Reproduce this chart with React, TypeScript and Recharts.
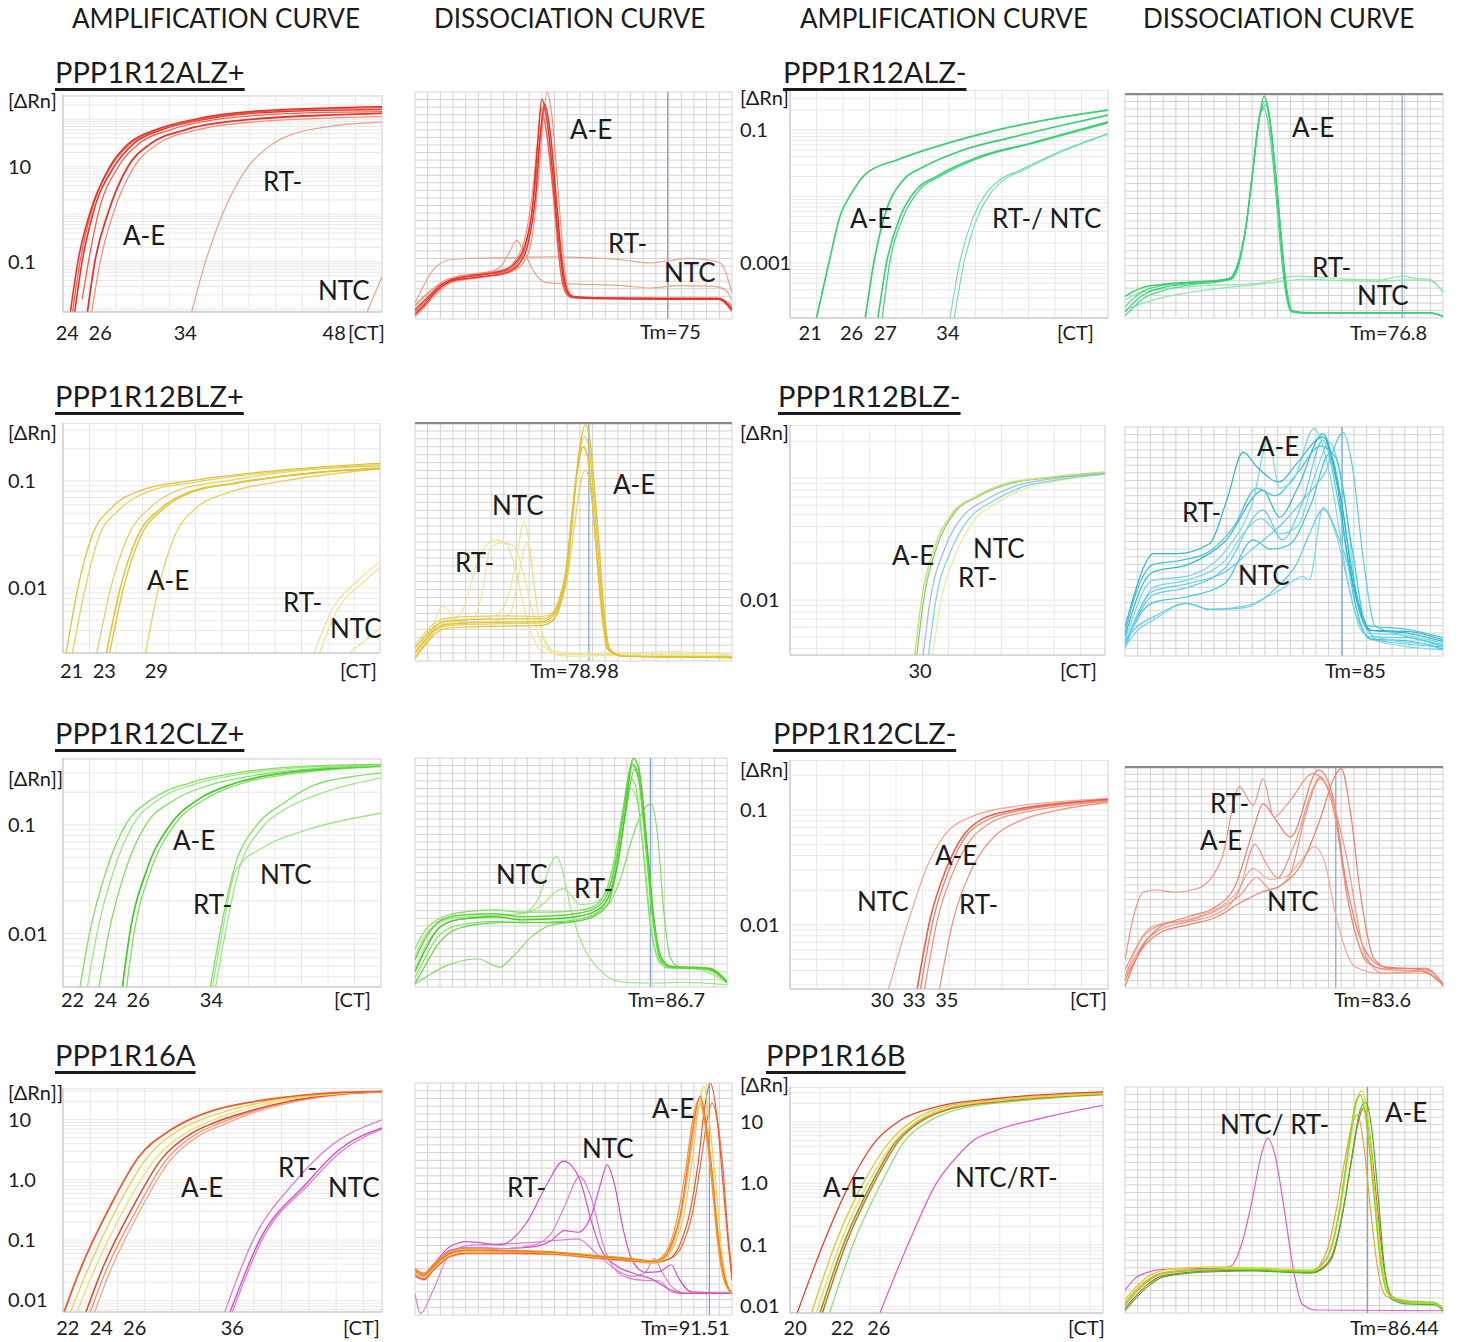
import React from 'react';
import { LineChart, Line, XAxis, YAxis, CartesianGrid, ReferenceLine } from 'recharts';

type Pt = [number, number];
type Anchor = 'start' | 'middle' | 'end';

const FONT = "Lato, 'Open Sans', 'DejaVu Sans', sans-serif";
const INK = '#1b1b1b';

// ---------- text content ----------
const columnHeaders = ['AMPLIFICATION CURVE', 'DISSOCIATION CURVE', 'AMPLIFICATION CURVE', 'DISSOCIATION CURVE'];
const geneTitles = ['PPP1R12ALZ+', 'PPP1R12ALZ-', 'PPP1R12BLZ+', 'PPP1R12BLZ-', 'PPP1R12CLZ+', 'PPP1R12CLZ-', 'PPP1R16A', 'PPP1R16B'];
const rnLabels = ['[ΔRn]', '[ΔRn]', '[ΔRn]', '[ΔRn]', '[ΔRn]]', '[ΔRn]', '[ΔRn]]', '[ΔRn]'];
const tmLabels = ['Tm=75', 'Tm=76.8', 'Tm=78.98', 'Tm=85', 'Tm=86.7', 'Tm=83.6', 'Tm=91.51', 'Tm=86.44'];
// where the blue Tm marker sits on each melt plot's temperature axis
const tmMarkers = [87.9, 90.5, 79.2, 83.9, 86.4, 83.2, 92.5, 86.7];

// ---------- amplification axes (Ct tick labels, ΔRn tick labels) ----------
const a1CtTicks = [24, 26, 34, 48];
const a1CtAnchor: Anchor[] = ['end', 'middle', 'middle', 'middle'];
const a1RnTicks = [10, 0.1];
const a2CtTicks = [21, 26, 27, 34];
const a2CtAnchor: Anchor[] = ['middle', 'end', 'start', 'middle'];
const a2RnTicks = [0.1, 0.001];
const a3CtTicks = [21, 23, 29];
const a3CtAnchor: Anchor[] = ['middle', 'start', 'middle'];
const a3RnTicks = [0.1, 0.01];
const a4CtTicks = [30];
const a4CtAnchor: Anchor[] = ['middle'];
const a4RnTicks = [0.01];
const a5CtTicks = [22, 24, 26, 34];
const a5CtAnchor: Anchor[] = ['end', 'middle', 'start', 'middle'];
const a5RnTicks = [0.1, 0.01];
const a6CtTicks = [30, 33, 35];
const a6CtAnchor: Anchor[] = ['middle', 'middle', 'start'];
const a6RnTicks = [0.1, 0.01];
const a7CtTicks = [22, 24, 26, 36];
const a7CtAnchor: Anchor[] = ['end', 'middle', 'start', 'middle'];
const a7RnTicks = [10, 1, 0.1, 0.01];
const a8CtTicks = [20, 22, 26];
const a8CtAnchor: Anchor[] = ['end', 'start', 'middle'];
const a8RnTicks = [10, 1, 0.1, 0.01];

// ---------- amplification curves: [cycle, ΔRn] ----------
// PPP1R12ALZ+
const a1Ae1: Pt[] = [[23.2, 0.0087], [23.9, 0.1], [25, 1], [26.9, 10], [28.6, 30], [31.2, 60], [34.9, 100], [41, 150], [52.5, 183]];
const a1Ae2: Pt[] = [[23.4, 0.0087], [24.1, 0.1], [25.1, 1], [27, 10], [28.8, 30], [31.5, 60], [35.5, 100], [42, 148], [52.5, 175]];
const a1Ae3: Pt[] = [[23.6, 0.0087], [24.3, 0.1], [25.3, 1], [27.3, 10], [29.1, 30], [31.8, 60], [35.9, 100], [42.9, 145], [52.5, 160]];
const a1Ae4: Pt[] = [[24.3, 0.016], [24.9, 0.1], [25.8, 1], [27.7, 10], [29.6, 30], [32.6, 60], [36.8, 98], [44.8, 135], [52.5, 145]];
const a1Ae5: Pt[] = [[24.8, 0.0087], [25.5, 0.1], [26.7, 1], [28.6, 10], [30.7, 30], [34, 60], [39.2, 95], [48.6, 125], [52.5, 133]];
const a1Ae6: Pt[] = [[25.2, 0.0087], [26, 0.1], [27.2, 1], [29.2, 10], [31.4, 30], [34.9, 58], [40.6, 88], [52.5, 113]];
const a1Rt: Pt[] = [[34.6, 0.0087], [35.9, 0.1], [37.5, 1], [39.9, 10], [42.2, 30], [45.7, 60], [52.5, 88]];
const a1Ntc: Pt[] = [[51.1, 0.0087], [52.5, 0.048]];
// PPP1R12ALZ-
const a2Ae1: Pt[] = [[21.6, 1.5e-4], [22.9, 0.00126], [23.8, 0.005], [24.9, 0.0112], [26.3, 0.0224], [29.2, 0.0355], [33.9, 0.063], [38.6, 0.1], [44.9, 0.158], [49.1, 0.2]];
const a2Ae2: Pt[] = [[26.2, 1.5e-4], [27, 0.001], [28.2, 0.0063], [29.8, 0.0178], [31.7, 0.028], [35.4, 0.05], [40.2, 0.079], [44.9, 0.119], [49.1, 0.168]];
const a2Ae3: Pt[] = [[27.4, 1.5e-4], [28.2, 0.001], [29.5, 0.005], [31, 0.0126], [32.9, 0.02], [37, 0.04], [41.7, 0.063], [49.1, 0.133]];
const a2Ae4: Pt[] = [[27.8, 1.5e-4], [28.5, 0.001], [29.8, 0.005], [31.3, 0.0126], [33.2, 0.02], [37.3, 0.04], [42, 0.063], [49.1, 0.128]];
const a2Rt: Pt[] = [[34.2, 1.5e-4], [35.1, 0.001], [36.4, 0.005], [37.6, 0.0112], [38.9, 0.0178], [40.8, 0.025], [44.9, 0.05], [49.1, 0.089]];
const a2Ntc: Pt[] = [[34.6, 1.5e-4], [35.5, 0.001], [36.8, 0.005], [38, 0.0112], [39.3, 0.0178], [41.1, 0.025], [45.1, 0.05], [49.1, 0.087]];
// PPP1R12BLZ+
const a3Ae1: Pt[] = [[20.5, 0.00247], [21.6, 0.01], [22.9, 0.03], [24.9, 0.0575], [27.6, 0.082], [32.1, 0.1], [41, 0.127], [50.1, 0.146]];
const a3Ae2: Pt[] = [[21.1, 0.00247], [22.3, 0.01], [23.6, 0.03], [25.6, 0.055], [28.3, 0.08], [32.8, 0.098], [41.5, 0.125], [50.1, 0.142]];
const a3Ae3: Pt[] = [[23.4, 0.00247], [24.7, 0.01], [26.3, 0.03], [28.5, 0.0575], [31.1, 0.082], [35.6, 0.1], [43.2, 0.127], [50.1, 0.138]];
const a3Ae4: Pt[] = [[24.3, 0.00247], [25.6, 0.01], [27.2, 0.03], [29.4, 0.055], [32, 0.078], [36.5, 0.096], [44, 0.12], [50.1, 0.132]];
const a3Ae5: Pt[] = [[24.6, 0.00247], [25.9, 0.01], [27.5, 0.03], [29.7, 0.055], [32.3, 0.078], [36.8, 0.096], [44.3, 0.12], [50.1, 0.13]];
const a3Ae6: Pt[] = [[28, 0.00247], [29.2, 0.01], [30.7, 0.03], [32.9, 0.0575], [35.6, 0.077], [41, 0.1], [50.1, 0.13]];
const a3Rt1: Pt[] = [[43.9, 0.00247], [45.4, 0.0058], [48.1, 0.0119], [50.1, 0.0176]];
const a3Rt2: Pt[] = [[44.4, 0.00247], [45.9, 0.0058], [48.5, 0.0113], [50.1, 0.0155]];
const a3Ntc: Pt[] = [[47.2, 0.00247], [50.1, 0.0042]];
// PPP1R12BLZ-
const a4C1: Pt[] = [[29.5, 0.00355], [30.2, 0.0108], [31.4, 0.0274], [33, 0.051], [35.2, 0.07], [38.3, 0.091], [42.4, 0.102], [47.5, 0.112]];
const a4C2: Pt[] = [[29.7, 0.00355], [30.4, 0.0108], [31.6, 0.0274], [33.2, 0.051], [35.4, 0.07], [38.5, 0.09], [42.6, 0.101], [47.5, 0.11]];
const a4C3: Pt[] = [[30.3, 0.00355], [31, 0.0105], [32.3, 0.026], [34, 0.048], [36.2, 0.066], [39.2, 0.087], [43, 0.1], [47.5, 0.108]];
const a4C4: Pt[] = [[30.8, 0.00355], [31.5, 0.01], [32.9, 0.025], [34.6, 0.046], [36.8, 0.064], [39.8, 0.085], [43.5, 0.098], [47.5, 0.107]];
const a4C5: Pt[] = [[31.2, 0.00355], [32, 0.01], [33.4, 0.024], [35.1, 0.045], [37.3, 0.063], [40.3, 0.084], [44, 0.098], [47.5, 0.113]];
// PPP1R12CLZ+
const a5Ae1: Pt[] = [[21.6, 0.00322], [22.5, 0.01], [24.1, 0.0385], [25.9, 0.1], [28.3, 0.17], [31.9, 0.243], [36.3, 0.3], [43, 0.347], [50, 0.36]];
const a5Ae2: Pt[] = [[22.3, 0.00322], [23.2, 0.01], [24.8, 0.0385], [26.6, 0.1], [29, 0.17], [32.6, 0.24], [37, 0.295], [43.5, 0.342], [50, 0.355]];
const a5Ae3: Pt[] = [[23.4, 0.00322], [24.3, 0.01], [25.9, 0.0385], [27.8, 0.1], [30.3, 0.165], [34, 0.235], [38.5, 0.29], [44.5, 0.335], [50, 0.35]];
const a5Ae4: Pt[] = [[25.6, 0.00322], [26.3, 0.01], [27.9, 0.0385], [30.1, 0.1], [32.7, 0.17], [36.3, 0.243], [40.8, 0.3], [50, 0.35]];
const a5Ae5: Pt[] = [[26, 0.00322], [26.7, 0.01], [28.3, 0.0385], [30.5, 0.1], [33.2, 0.168], [36.8, 0.24], [41.5, 0.295], [50, 0.345]];
const a5Rt1: Pt[] = [[33.9, 0.00322], [34.8, 0.01], [36.1, 0.0385], [38.3, 0.1], [40.8, 0.158], [43.4, 0.226], [47.4, 0.28], [50, 0.3]];
const a5Rt2: Pt[] = [[34.4, 0.00322], [35.3, 0.01], [36.6, 0.0385], [38.6, 0.09], [41, 0.14], [44, 0.19], [47.5, 0.24], [50, 0.27]];
const a5Ntc: Pt[] = [[34.1, 0.00322], [35, 0.01], [36.3, 0.0385], [39, 0.063], [43, 0.09], [50, 0.128]];
// PPP1R12CLZ-
const a6Ntc: Pt[] = [[30.6, 0.00276], [32.5, 0.011], [34.1, 0.03], [35.8, 0.059], [38.4, 0.087], [42.4, 0.107], [46.7, 0.118], [51.3, 0.126]];
const a6Ae1: Pt[] = [[33.3, 0.00276], [34.5, 0.011], [36, 0.03], [37.6, 0.059], [39.3, 0.082], [42.4, 0.1], [46.7, 0.114], [51.3, 0.124]];
const a6Ae2: Pt[] = [[33.6, 0.00276], [34.8, 0.011], [36.3, 0.03], [37.9, 0.059], [39.7, 0.08], [42.8, 0.098], [47, 0.112], [51.3, 0.122]];
const a6Ae3: Pt[] = [[34, 0.00276], [35.2, 0.011], [36.7, 0.029], [38.4, 0.056], [40.2, 0.077], [43.3, 0.095], [47.3, 0.109], [51.3, 0.119]];
const a6Rt: Pt[] = [[35.4, 0.00276], [36.7, 0.011], [38.4, 0.03], [40.6, 0.059], [43.2, 0.082], [46.7, 0.1], [51.3, 0.116]];
// PPP1R16A
const a7Ae1: Pt[] = [[20.6, 0.0064], [22, 0.03], [24.8, 0.36], [27.5, 2.5], [30.2, 6.5], [31.8, 9.5], [34.5, 14.7], [39.1, 21.5], [45.2, 27.9], [49.7, 29.6]];
const a7Ae2: Pt[] = [[21.2, 0.0064], [22.7, 0.03], [25.5, 0.36], [28.3, 2.5], [31, 6.5], [32.8, 9.5], [35.5, 14], [39.8, 21], [45.5, 27.5], [49.7, 29.3]];
const a7Ae3: Pt[] = [[21.8, 0.0064], [23.3, 0.03], [26.1, 0.33], [28.9, 2.2], [31.7, 6], [33.7, 9], [36.3, 13.5], [40.3, 20.5], [45.8, 27], [49.7, 29]];
const a7Ae4: Pt[] = [[22.6, 0.0064], [24, 0.03], [26.8, 0.33], [29.5, 2.2], [32.3, 6], [34.4, 9], [37, 13], [41, 20], [46, 27], [49.7, 29]];
const a7Ae5: Pt[] = [[23.4, 0.0064], [24.8, 0.03], [27.5, 0.3], [30.2, 2], [33, 5.5], [35.2, 8.3], [37.6, 12.5], [41.5, 19.5], [46.3, 26.5], [49.7, 28.8]];
const a7Ae6: Pt[] = [[23, 0.0064], [24.4, 0.03], [27.2, 0.31], [29.9, 2.1], [32.7, 5.8], [34.8, 8.7], [37.3, 12.8], [41.2, 19.8], [46.1, 26.8], [49.7, 29]];
const a7Rt: Pt[] = [[35.3, 0.0064], [37.9, 0.1], [41.6, 0.88], [44.6, 3.2], [49.7, 10]];
const a7Ntc1: Pt[] = [[35.8, 0.0064], [38.5, 0.1], [42.8, 0.88], [45.8, 3.2], [49.7, 7.3]];
const a7Ntc2: Pt[] = [[36, 0.0064], [38.7, 0.1], [43, 0.85], [46, 3.0], [49.7, 7.0]];
// PPP1R16B
const a8Ae1: Pt[] = [[19.2, 0.0078], [21.5, 0.12], [23.6, 1.0], [25.8, 5], [27.8, 10.6], [30.8, 17.5], [35.8, 24], [44.7, 30.7]];
const a8Ae2: Pt[] = [[20.4, 0.0078], [22.5, 0.12], [24.7, 1.0], [27, 5], [28.9, 10.6], [31.4, 17.5], [35.8, 23], [44.7, 29.5]];
const a8Ae3: Pt[] = [[20.8, 0.0078], [22.9, 0.12], [25.1, 1.0], [27.4, 5], [29.3, 10.6], [31.8, 17], [36.2, 22.5], [44.7, 29]];
const a8Ae4: Pt[] = [[21.1, 0.0078], [23.2, 0.12], [25.4, 1.0], [27.5, 5], [29.4, 10.6], [31.9, 17], [36.5, 22.5], [44.7, 28.5]];
const a8Ae5: Pt[] = [[21.3, 0.0078], [23.4, 0.12], [25.6, 1.0], [27.7, 5], [29.6, 10.4], [32.1, 16.5], [36.8, 22], [44.7, 28]];
const a8Ae6: Pt[] = [[21.9, 0.0078], [24, 0.12], [26.2, 1.0], [28.2, 5], [30.1, 10], [32.6, 16], [37.3, 21.5], [44.7, 27.5]];
const a8Neg: Pt[] = [[26.1, 0.0078], [28.6, 0.12], [30.8, 1.0], [32.5, 2.7], [33.9, 5], [35.8, 7.3], [40, 12], [44.7, 18.6]];

// ---------- dissociation curves: [temperature, -dRn/dT] ----------
// PPP1R12ALZ+
const d1Ae1: Pt[] = [[60, 1.2], [61, 2.4], [62, 3.6], [63, 4.6], [64, 5.2], [66, 5.7], [68, 6.0], [70, 6.5], [71.2, 7.6], [72.2, 10], [73, 15], [73.6, 24], [74, 29], [74.6, 26], [75.3, 18], [75.9, 10], [76.5, 4.5], [77.2, 3.0], [80, 2.8], [88, 2.7], [93.5, 2.7], [95, 1.3]];
const d1Ae2: Pt[] = [[60, 0.6], [61, 1.8], [62, 3.2], [63, 4.3], [64, 5.0], [66, 5.4], [68, 5.7], [70, 6.1], [71.5, 7.3], [72.5, 10], [73.3, 16], [73.9, 25], [74.3, 28.4], [74.9, 25], [75.6, 16], [76.2, 8], [76.8, 3.8], [77.5, 2.9], [80, 2.7], [88, 2.6], [93.5, 2.6], [95, 1.2]];
const d1Ae3: Pt[] = [[60, 0.3], [61, 1.5], [62, 2.9], [63, 4.0], [64, 4.8], [66, 5.3], [68, 5.6], [70, 6.0], [71.8, 7.2], [72.8, 10], [73.6, 18], [74.2, 27], [74.6, 30], [75.1, 27], [75.8, 17], [76.4, 8], [77, 3.6], [77.8, 2.9], [80, 2.8], [88, 2.7], [93.5, 2.7], [95, 1.6]];
const d1Ae4: Pt[] = [[60, 0.9], [61, 2.1], [62, 3.4], [63, 4.4], [64, 5.1], [66, 5.6], [68, 5.9], [70, 6.3], [71.3, 7.4], [72.3, 10], [73.1, 16], [73.8, 24], [74.1, 26.7], [74.7, 23], [75.4, 15], [76, 7], [76.6, 3.5], [77.3, 2.8], [80, 2.7], [88, 2.7], [93.5, 2.7], [95, 1.0]];
const d1Ae5: Pt[] = [[60, 1.8], [61, 3.0], [62, 4.0], [63, 4.9], [64, 5.4], [66, 5.9], [68, 6.2], [70, 6.6], [71.1, 7.8], [72.1, 10.5], [72.9, 16], [73.5, 23], [73.9, 27.8], [74.5, 25], [75.2, 17], [75.8, 9], [76.4, 4.2], [77.1, 3.0], [80, 2.8], [88, 2.8], [93.5, 2.8], [95, 1.8]];
const d1Rt: Pt[] = [[60, 2.1], [61, 4.5], [62, 6.5], [63.8, 7.8], [66, 8.0], [70, 8.1], [75, 8.2], [79, 8.1], [83, 7.8], [86, 7.4], [88, 7.7], [90.4, 8.0], [92.5, 7.8], [93.8, 7.3], [95, 3.4]];
const d1Ntc: Pt[] = [[60, 1.6], [61, 2.9], [62, 4.0], [64, 5.2], [66, 5.7], [68, 6.1], [69.5, 7.0], [70.5, 9], [71.2, 10.4], [72, 9], [73, 6.5], [74.5, 4.8], [78, 4.6], [83, 4.4], [86, 4.1], [89, 4.4], [93, 4.3], [94.3, 3.8], [95, 2.5]];
// PPP1R12ALZ-
const d2Ae1: Pt[] = [[60, 2.9], [61, 3.6], [62, 4.1], [64, 4.5], [67, 4.8], [70, 5.0], [71.5, 5.3], [72.5, 7.5], [73.3, 12], [73.9, 18], [74.7, 26], [75.3, 29.7], [75.9, 27], [76.5, 20], [77, 13], [77.6, 5], [78.3, 1.0], [80, 0.7], [88, 0.7], [93.5, 0.7], [95, 0.2]];
const d2Ae2: Pt[] = [[60, 1.5], [61, 2.7], [62, 3.6], [64, 4.3], [67, 4.7], [70, 5.0], [71.6, 5.4], [72.6, 8], [73.4, 13], [74, 19], [74.8, 27], [75.4, 29], [76, 26], [76.6, 19], [77.1, 12], [77.7, 4.5], [78.4, 0.9], [80, 0.7], [88, 0.7], [93.5, 0.7], [95, 0.2]];
const d2Ae3: Pt[] = [[60, 0.8], [61, 2.1], [62, 3.1], [64, 4.0], [67, 4.6], [70, 4.9], [71.7, 5.2], [72.7, 8], [73.5, 14], [74.2, 21], [74.9, 27.5], [75.5, 28.5], [76.1, 25], [76.7, 18], [77.2, 11], [77.8, 4], [78.5, 0.8], [80, 0.7], [88, 0.7], [93.5, 0.7], [95, 0.2]];
const d2Ae4: Pt[] = [[60, 0.3], [61, 1.5], [62, 2.6], [64, 3.6], [67, 4.4], [70, 4.8], [71.6, 5.2], [72.6, 7.8], [73.4, 13], [74.1, 20], [74.8, 27], [75.3, 28], [75.9, 25], [76.5, 18], [77, 11], [77.6, 4], [78.3, 0.8], [80, 0.6], [88, 0.6], [93.5, 0.7], [95, 0.2]];
const d2Rt: Pt[] = [[60, 2.4], [61, 3.1], [62, 3.5], [64, 3.9], [66, 4.1], [70, 4.4], [73, 4.5], [75, 4.7], [77, 5.3], [79, 5.6], [81, 5.5], [84, 5.2], [88, 5.1], [90.5, 5.6], [92, 5.3], [93.5, 5.2], [95, 3.4]];
const d2Ntc: Pt[] = [[60, 1.1], [62, 2.0], [64, 2.7], [66, 3.2], [68, 3.6], [70, 3.9], [72, 4.2], [74, 4.4], [76, 4.7], [78, 5.0], [80, 5.2], [84, 5.0], [88, 4.9], [91, 5.1], [93.5, 5.0], [95, 3.6]];
// PPP1R12BLZ+
const d3Ae1: Pt[] = [[60, 1.0], [61, 2.5], [62, 3.8], [63.5, 4.6], [66, 4.8], [70, 4.9], [74, 5.0], [75.2, 5.6], [76, 7.5], [76.7, 11], [77.4, 19], [78.2, 27], [78.8, 29.8], [79.3, 28], [79.8, 22], [80.3, 15], [80.9, 6], [81.5, 1.5], [83, 0.6], [90, 0.5], [95, 0.5]];
const d3Ae2: Pt[] = [[60, 0.3], [61, 1.8], [62, 3.2], [63.5, 4.1], [66, 4.3], [70, 4.4], [74, 4.5], [75.3, 5.2], [76.1, 7.5], [76.8, 11], [77.5, 19], [78.2, 26.5], [78.7, 28.3], [79.2, 27], [79.7, 21], [80.2, 14], [80.8, 6], [81.4, 1.5], [83, 0.6], [90, 0.5], [95, 0.5]];
const d3Ae3: Pt[] = [[60, 1.6], [61, 3.0], [62, 4.2], [63.5, 5.0], [66, 5.2], [70, 5.3], [74, 5.3], [75.1, 5.8], [75.9, 7.5], [76.6, 11], [77.3, 18], [78, 24.5], [78.6, 27], [79.1, 25.5], [79.6, 20], [80.1, 13], [80.7, 5.5], [81.3, 1.4], [83, 0.6], [90, 0.5], [95, 0.4]];
const d3Ae4: Pt[] = [[60, 0.6], [61, 2.0], [62, 3.5], [63.5, 4.4], [66, 4.6], [70, 4.7], [74, 4.8], [75.4, 5.4], [76.2, 7.5], [76.9, 11], [77.6, 17], [78.3, 22.5], [78.8, 24.1], [79.3, 22.5], [79.8, 17], [80.3, 11], [80.9, 4.5], [81.5, 1.2], [83, 0.6], [90, 0.5], [95, 0.4]];
const d3Ae5: Pt[] = [[60, 2.0], [61, 3.4], [62, 4.6], [63.5, 5.4], [66, 5.6], [70, 5.7], [74, 5.6], [75.1, 6.0], [75.9, 7.8], [76.6, 11], [77.3, 18], [78, 25], [78.5, 27], [79, 26], [79.5, 21], [80, 14], [80.6, 6], [81.2, 1.6], [83, 0.6], [90, 0.5], [95, 0.5]];
const d3Rt1: Pt[] = [[60, 0.6], [61.5, 3], [63.1, 6.9], [64.7, 5.2], [66.4, 5.3], [67.5, 9], [68.3, 14.2], [69.6, 14.9], [70.9, 14.5], [72, 11], [73, 6], [74.1, 1.9], [76.7, 0.6], [85, 0.8], [93, 1.0], [95, 0.6]];
const d3Rt2: Pt[] = [[60, 0.4], [61.5, 3.2], [63, 5.0], [64.5, 5.5], [65.5, 7], [66.3, 10.3], [67.5, 14], [68.9, 15.3], [70, 14.8], [71, 12], [72, 7], [73, 3], [74.5, 1.0], [95, 0.6]];
const d3Ntc1: Pt[] = [[60, 1.2], [61, 2.8], [62.5, 4.7], [64, 5.2], [67, 5.3], [69, 5.8], [70.5, 9], [71.5, 15], [72, 17.6], [72.6, 15], [73.3, 8], [74.2, 3], [75.5, 1.2], [80, 0.9], [88, 1.2], [93, 1.0], [95, 0.6]];
const d3Ntc2: Pt[] = [[60, 0.8], [61, 2.4], [62.5, 4.4], [64, 4.8], [68, 4.9], [70.5, 6], [71.5, 11], [72.3, 14.9], [72.9, 12], [73.6, 6], [74.5, 2], [76, 0.8], [95, 0.7]];
// PPP1R12BLZ-
const d4C1: Pt[] = [[60, 3.8], [61, 8], [62, 11.5], [63.1, 13.4], [65.7, 13.4], [69.3, 14.7], [71.2, 20.4], [73, 26.7], [74.5, 24.8], [77, 22.8], [78.9, 25.2], [81.8, 28.7], [83.3, 22.6], [84.7, 11.7], [86.9, 3.4], [91.3, 3.2], [95, 2.1]];
const d4C2: Pt[] = [[60, 2.1], [61, 5.5], [62, 8.5], [63.1, 9.9], [67, 10.5], [71.2, 14], [74, 20], [75.8, 28.3], [77, 22], [78.5, 23], [80.8, 29.8], [82.5, 24], [84.5, 10], [86.3, 3], [90, 2.8], [95, 1.7]];
const d4C3: Pt[] = [[60, 1.5], [61, 4.5], [62, 7], [63.1, 8.5], [67, 9.5], [71, 11], [74, 14], [77, 17], [80, 21], [82, 24], [84, 29.3], [85, 25], [86.3, 12], [87.5, 4], [90, 2.9], [95, 1.5]];
const d4C4: Pt[] = [[60, 2.5], [61, 6.5], [62, 9.5], [63.1, 11], [67, 12], [71, 15], [75.2, 21.7], [77, 18.2], [79, 22], [81.8, 29.1], [83.5, 22], [85.5, 8], [87, 3.4], [91, 3.0], [95, 1.9]];
const d4C5: Pt[] = [[60, 1.2], [61, 4], [62, 6.5], [63.1, 8], [67, 9], [71, 11.5], [75.2, 19.1], [77.3, 15.2], [79.5, 20], [81.8, 28.3], [83.5, 20], [85.3, 7], [86.8, 2.5], [91, 2.4], [95, 1.2]];
const d4C6: Pt[] = [[60, 1.8], [61, 4], [62, 6], [63.1, 7], [67, 7.8], [71, 9.5], [74.1, 15.2], [76, 14], [78, 14.5], [80.5, 20], [82.5, 26.5], [84, 19], [85.5, 6], [87, 2.2], [91, 2.0], [95, 0.9]];
const d4C7: Pt[] = [[60, 1.2], [61.5, 3.5], [63.1, 4.7], [66.8, 6.9], [69.3, 6.1], [73, 6.5], [77, 8.6], [79.6, 10.4], [80.3, 10], [81.8, 19.5], [83.2, 16], [85.5, 5.1], [87.3, 2.1], [95, 0.8]];
const d4C8: Pt[] = [[60, 2.1], [61.5, 4], [63.1, 5.1], [66.8, 6.9], [69.3, 6.1], [73, 6.3], [76.7, 9], [78.9, 12.1], [80.3, 16], [81.8, 19.2], [84, 13.9], [86.2, 5.1], [87.7, 2.1], [95, 1.2]];
const d4C9: Pt[] = [[60, 1.0], [61, 4], [62, 7], [63.1, 9], [67, 10], [71, 12.5], [73, 16], [75, 18], [77, 16], [79, 17], [81, 24], [82.5, 28], [84, 22], [85.8, 6], [87.5, 2.5], [95, 1.4]];
const d4C10: Pt[] = [[60, 3.0], [61, 7.5], [62, 10.5], [63.1, 12], [66, 12.5], [69, 13.5], [72, 17], [74.5, 22], [76.5, 21], [79, 24], [81.5, 27.5], [83.2, 26], [85, 14], [86.6, 4], [91, 3.5], [95, 2.4]];
// PPP1R12CLZ+
const d5Ae1: Pt[] = [[60, 3.5], [61, 6], [62.5, 8.4], [64, 9.2], [66, 9.5], [69, 9.6], [72, 9.2], [75, 9.3], [78, 9.6], [80, 10.2], [81.5, 12], [82.6, 17], [83.5, 24], [84.3, 29.3], [85, 28], [85.8, 20], [86.6, 10], [87.4, 4.5], [88.5, 2.6], [91, 2.5], [93, 2.3], [95, 0.6]];
const d5Ae2: Pt[] = [[60, 2.0], [61, 4.5], [62.5, 7.5], [64, 8.6], [66, 9.0], [69, 9.2], [72, 8.8], [75, 8.9], [78, 9.2], [80, 9.8], [81.6, 11.5], [82.7, 16], [83.6, 23], [84.5, 30], [85.2, 28], [86, 19], [86.8, 9], [87.6, 4], [88.8, 2.6], [91, 2.5], [93, 2.4], [95, 0.6]];
const d5Ae3: Pt[] = [[60, 5.0], [61, 7.2], [62.5, 8.8], [64, 9.5], [66, 9.9], [69, 10.1], [72, 9.8], [75, 9.8], [78, 10], [80, 10.5], [81.4, 12.5], [82.4, 17], [83.3, 23], [84, 27.5], [84.7, 26.5], [85.5, 19], [86.3, 9], [87.2, 4], [88.3, 2.5], [91, 2.4], [93, 2.2], [95, 0.5]];
const d5Ae4: Pt[] = [[60, 1.2], [61, 3.5], [62.5, 6.5], [64, 7.8], [66, 8.3], [69, 8.6], [72, 8.4], [75, 8.5], [78, 8.8], [80, 9.5], [81.8, 11], [83, 14], [84.5, 20], [85.8, 23.5], [86.5, 24], [87.2, 20], [87.9, 10], [88.6, 4], [89.5, 2.7], [91, 2.6], [93, 2.5], [95, 0.8]];
const d5Ae5: Pt[] = [[60, 0.5], [61, 2.5], [62.5, 5.5], [64, 7.2], [66, 8], [69, 8.4], [72, 8.5], [75, 8.4], [78, 8.6], [80, 9.2], [81.7, 11], [82.8, 16.5], [83.8, 24], [84.6, 28.5], [85.3, 26], [86.1, 17], [86.9, 7.5], [87.7, 3.2], [89, 2.7], [91, 2.6], [93, 2.4], [95, 0.7]];
const d5Ae6: Pt[] = [[60, 0.4], [61.5, 1.5], [63.5, 2.8], [66, 3.6], [67, 3.7], [69.5, 2.6], [71, 4], [73, 6.5], [75, 8], [78, 8.6], [80, 9.3], [81.6, 11.5], [82.7, 17], [83.6, 24.5], [84.4, 29], [85.1, 27], [85.9, 18], [86.7, 8.5], [87.5, 3.7], [88.7, 2.6], [91, 2.5], [93, 2.3], [95, 0.6]];
const d5Ntc: Pt[] = [[60, 4], [61, 6.5], [62.5, 8.3], [64, 9], [66, 9.2], [69, 9.4], [72, 9.6], [74, 12], [75.2, 16], [75.9, 17.1], [76.6, 15], [77.5, 10], [79, 5], [80.5, 2.5], [83, 0.7], [86, 0.5], [90, 0.6], [95, 0.3]];
const d5Rt: Pt[] = [[60, 2.5], [61, 5], [62.5, 7.5], [64, 8.6], [66, 9.0], [69, 9.3], [72, 9.6], [74.5, 11], [75.8, 12.5], [76.7, 12.9], [77.5, 12], [78.5, 10.8], [80, 11], [81.5, 12.5], [82.6, 17], [83.5, 23], [84.2, 26], [85, 24], [85.8, 16], [86.6, 7], [87.4, 3.2], [88.5, 2.6], [91, 2.5], [95, 0.6]];
// PPP1R12CLZ-
const d6S1: Pt[] = [[60, 3.8], [61, 10], [62, 13], [63.4, 13.3], [65.5, 13], [68, 13.5], [70.6, 17.4], [72.6, 27.3], [74.1, 24.8], [75.2, 28.4], [76.4, 23.2], [78.2, 25.5], [80.7, 29.1], [82.3, 27.3], [84.3, 18.3], [86.4, 4.7], [88.4, 2.0], [93.5, 2.3], [95, 0.2]];
const d6S2: Pt[] = [[60, 0.2], [61.9, 5.6], [63.9, 8.3], [67, 9.7], [70.1, 11.1], [72.1, 13.8], [74.1, 21.4], [75.2, 25], [76.6, 22.8], [78.2, 20.5], [81.3, 29.6], [82.8, 26.4], [84.3, 14.7], [86.4, 5.2], [88.4, 2.9], [92.5, 2.5], [95, 0.45]];
const d6S3: Pt[] = [[60, 1.5], [62, 6], [64, 8], [67, 9], [70, 10], [72.5, 13], [74.3, 19.5], [75.5, 17], [76.8, 15], [78.5, 19], [81.5, 28.4], [83, 24], [84.5, 12], [86.5, 4], [88.5, 2.5], [92.5, 2.3], [95, 0.5]];
const d6S4: Pt[] = [[60, 1.6], [62.9, 8.3], [68, 9.7], [72.2, 12.8], [74.1, 16.2], [76, 14.7], [77.7, 15.1], [79.5, 17.5], [80.8, 19.2], [82, 17], [83.3, 9.3], [85.3, 2.9], [88, 2.0], [93, 2.0], [95, 0.4]];
const d6S5: Pt[] = [[60, 2.4], [62, 7], [64, 8.6], [67, 9.2], [70, 10.5], [72.6, 12.5], [74.5, 15], [76, 13.4], [78, 15], [80, 24], [81.5, 28.7], [83, 24], [84.7, 11], [86.6, 3.5], [88.6, 2.6], [93, 2.7], [95, 0.6]];
const d6S6: Pt[] = [[60, 1.0], [62, 5.5], [64, 7.6], [67, 8.6], [70, 9.6], [72.6, 11.5], [75, 13], [77, 13.8], [79.5, 17], [81.5, 23], [83, 28.5], [83.8, 29.8], [84.8, 24], [86, 12], [87.4, 4], [89, 2.7], [93, 2.6], [95, 0.5]];
// PPP1R16A
const d7A1: Pt[] = [[60, 5.8], [61, 5.2], [62, 6.3], [63.9, 8], [65.7, 8.4], [70, 8.3], [75, 8.1], [80, 7.6], [84, 7.2], [86.4, 6.9], [87.6, 7.6], [88.5, 9.7], [89.3, 13], [90, 18.3], [90.8, 25], [91.5, 28.3], [92.1, 25], [92.8, 18.5], [93.5, 10], [94.1, 5.4], [95, 2.8]];
const d7A2: Pt[] = [[60, 5.5], [61, 4.9], [62, 6.0], [63.9, 7.8], [65.7, 8.2], [70, 8.2], [75, 8.0], [80, 7.5], [84, 7.1], [86.4, 6.8], [87.8, 7.5], [88.8, 9.5], [89.7, 13], [90.5, 19], [91.3, 26.5], [91.9, 29.6], [92.5, 25], [93.2, 17], [93.9, 8], [94.5, 4], [95, 2.6]];
const d7A3: Pt[] = [[60, 5.2], [61, 4.6], [62, 5.8], [63.9, 7.6], [65.7, 8.0], [70, 8.0], [75, 7.9], [80, 7.4], [84, 7.0], [86.4, 6.8], [88, 7.2], [89.2, 9], [90.3, 13], [91.3, 20], [92, 27], [92.6, 30], [93.3, 26], [94, 17], [94.6, 9], [95, 4.5]];
const d7A4: Pt[] = [[60, 6.0], [61, 5.4], [62, 6.5], [63.9, 8.2], [65.7, 8.6], [70, 8.4], [75, 8.2], [80, 7.7], [84, 7.3], [86.4, 7.0], [87.5, 7.8], [88.4, 10], [89.2, 14], [89.9, 19], [90.7, 25.5], [91.4, 28], [92, 25], [92.7, 18], [93.4, 9.5], [94, 5], [95, 2.7]];
const d7A5: Pt[] = [[60, 5.0], [61, 4.5], [62, 5.7], [63.9, 7.5], [65.7, 7.9], [70, 7.9], [75, 7.8], [80, 7.3], [84, 6.9], [86.4, 6.7], [87.6, 7.4], [88.6, 9.5], [89.4, 13], [90.1, 18], [90.9, 24.5], [91.5, 27.2], [92.1, 24], [92.8, 17], [93.5, 9], [94.1, 5], [95, 2.6]];
const d7A6: Pt[] = [[60, 5.6], [61, 5.0], [62, 6.1], [63.9, 7.9], [65.7, 8.3], [70, 8.2], [75, 8.0], [80, 7.5], [84, 7.1], [86.4, 6.8], [88.2, 7.3], [89.5, 9], [90.6, 13], [91.6, 20], [92.3, 25.5], [92.8, 27.4], [93.4, 25], [94, 19], [94.6, 10], [95, 5.5]];
const d7M1: Pt[] = [[60, 5.8], [61, 5.4], [62, 6.5], [63.9, 8.9], [65.7, 9.5], [69.4, 9.1], [72.3, 11.9], [74.6, 17], [76.4, 19.9], [78.2, 17.5], [79.5, 12], [80.4, 8.85], [82.3, 6.3], [84.1, 5.4], [86.4, 4.5], [87.8, 3.5], [89.7, 2.8], [95, 2.8]];
const d7M2: Pt[] = [[60, 5.0], [61, 4.7], [62, 6], [63.9, 8.3], [66, 8.7], [70, 8.6], [73, 9.0], [75, 10.5], [76.5, 14], [78.2, 17.9], [79.5, 15], [80.8, 9], [82, 6], [83.5, 4.8], [85, 4.5], [87, 4.4], [88.3, 3.0], [89.5, 2.8], [95, 2.8]];
const d7M3: Pt[] = [[60, 5.5], [61, 5.0], [62, 6.2], [63.9, 8.4], [66, 8.7], [70, 8.6], [73, 8.8], [75, 9.6], [76.5, 10.9], [78, 10.7], [79.5, 13], [80.5, 17], [81.2, 19.4], [82, 17], [83, 11], [84, 7], [85.5, 5.5], [87, 5.6], [88.3, 6.5], [89, 5], [90.5, 3], [95, 2.8]];
const d7M4: Pt[] = [[60, 2.8], [60.6, 0.2], [62, 3.2], [63.9, 8], [66, 9], [70, 9.2], [73, 9.4], [75, 9.6], [78, 9.8], [80, 8], [82, 6], [84, 5.0], [85.5, 5.6], [86.4, 7.3], [87.3, 5.5], [88.5, 3.5], [90, 2.8], [95, 2.8]];
// PPP1R16B
const d8G1: Pt[] = [[60, 1.0], [61, 2.5], [62.5, 4.2], [64, 5.2], [67, 5.6], [70, 5.8], [74, 5.8], [78, 5.6], [80.5, 5.5], [81.5, 6.2], [82.5, 8], [83.5, 13], [84.5, 21], [85.4, 28], [85.9, 28.9], [86.5, 26], [87.3, 17], [88.1, 7], [89, 2.5], [91, 1.6], [94, 1.4], [95, 0.6]];
const d8Y1: Pt[] = [[60, 1.8], [61, 3.2], [62.5, 4.8], [64, 5.6], [67, 6.0], [70, 6.1], [74, 6.0], [78, 5.8], [80.5, 5.7], [81.7, 6.5], [82.7, 8.5], [83.7, 14], [84.7, 22], [85.6, 28.5], [86.1, 29.5], [86.7, 26], [87.5, 16], [88.3, 6.5], [89.2, 2.3], [91, 1.5], [94, 1.3], [95, 0.5]];
const d8R1: Pt[] = [[60, 0.6], [61, 2.0], [62.5, 3.8], [64, 4.9], [67, 5.4], [70, 5.6], [74, 5.7], [78, 5.5], [80.5, 5.4], [81.8, 6.1], [82.9, 8], [83.9, 13], [84.9, 20], [85.8, 26], [86.3, 27.2], [86.9, 24], [87.7, 15], [88.5, 6], [89.4, 2.2], [91, 1.4], [94, 1.3], [95, 0.4]];
const d8O1: Pt[] = [[60, 1.3], [61, 2.8], [62.5, 4.4], [64, 5.3], [67, 5.7], [70, 5.8], [74, 5.8], [78, 5.6], [80.5, 5.5], [81.4, 6.3], [82.3, 8.5], [83.3, 14], [84.3, 21], [85.1, 25.5], [85.6, 26.3], [86.2, 23], [87, 14], [87.8, 6], [88.7, 2.3], [91, 1.5], [94, 1.4], [95, 0.5]];
const d8G2: Pt[] = [[60, 0.3], [61, 1.7], [62.5, 3.5], [64, 4.7], [67, 5.3], [70, 5.5], [74, 5.6], [78, 5.4], [80.5, 5.3], [81.9, 6.0], [83, 8], [84, 13.5], [85, 21], [85.9, 27], [86.5, 28], [87.1, 25], [87.9, 15], [88.6, 5.5], [89.4, 1.8], [91, 1.2], [94, 1.1], [95, 0.3]];
const d8M1: Pt[] = [[60, 3.0], [61, 4.5], [62.5, 5.4], [64, 5.8], [67, 5.9], [70, 5.9], [71.6, 6.2], [72.8, 9], [74, 15], [75, 21], [75.7, 23.2], [76.5, 21], [77.5, 14], [78.5, 6], [79.5, 1.2], [81, 0.4], [95, 0.3]];

// ---------- helpers ----------
interface Series { pts: Pt[]; color: string; w?: number }
interface Box { x: number; y: number; w: number; h: number }
interface Note { text: string; x: number; cy: number }

const rows = (pts: Pt[]) => pts.map(([x, y]) => ({ x, y }));

const stepTicks = (lo: number, hi: number, step: number) => {
  const out: number[] = [];
  for (let v = lo; v <= hi + 1e-6; v += step) out.push(Number(v.toFixed(3)));
  return out;
};

// minor log grid: 1..9 x each decade inside the domain
const logTicks = (lo: number, hi: number) => {
  const out: number[] = [];
  for (let d = Math.floor(Math.log10(lo)); d <= Math.ceil(Math.log10(hi)); d++) {
    for (let k = 1; k < 10; k++) {
      const v = Number((k * Math.pow(10, d)).toPrecision(3));
      if (v >= lo && v <= hi) out.push(v);
    }
  }
  return out;
};

const MELT_T: [number, number] = [60, 95];
const MELT_Y: [number, number] = [0, 30];
const MELT_T_GRID = stepTicks(60, 95, 1.4);
const MELT_Y_GRID = stepTicks(0, 30, 1);

const CtTick = (props: any) => {
  const { x, y, payload, ticks, anchors, dy } = props;
  const i = ticks.indexOf(payload.value);
  return (
    <text x={x} y={y + dy} textAnchor={anchors[i] || 'middle'} fontSize={20} fill={INK} fontFamily={FONT}>
      {payload.value}
    </text>
  );
};

const RnTick = (props: any) => {
  const { y, payload } = props;
  const v = payload.value;
  return (
    <text x={2} y={y + 7} textAnchor="start" fontSize={20} fill={INK} fontFamily={FONT}>
      {v === 1 ? '1.0' : String(v)}
    </text>
  );
};

interface AmpProps {
  left: number; box: Box; xDomain: [number, number]; yDomain: [number, number];
  ct: number[]; ctAnchor: Anchor[]; ctDy: number; rn: number[]; series: Series[];
}

const AmpChart = ({ left, box, xDomain, yDomain, ct, ctAnchor, ctDy, rn, series }: AmpProps) => {
  const axisW = box.x - left;
  return (
    <div style={{ position: 'absolute', left, top: box.y }}>
      <LineChart width={axisW + box.w + 1} height={box.h + 38} margin={{ top: 0, right: 1, bottom: 0, left: 0 }}>
        <XAxis xAxisId="grid" type="number" dataKey="x" domain={xDomain} ticks={stepTicks(xDomain[0], xDomain[1], 2.5)} interval={0} hide allowDataOverflow />
        <YAxis yAxisId="grid" type="number" scale="log" domain={yDomain} ticks={logTicks(yDomain[0], yDomain[1])} interval={0} hide allowDataOverflow />
        <CartesianGrid xAxisId="grid" yAxisId="grid" stroke="#e8e8e8" />
        <XAxis
          type="number" dataKey="x" domain={xDomain} ticks={ct} interval={0} height={38} allowDataOverflow
          tickLine={false} axisLine={{ stroke: '#bdbdbd' }}
          tick={(p: any) => <CtTick {...p} ticks={ct} anchors={ctAnchor} dy={ctDy} />}
        />
        <YAxis
          type="number" scale="log" domain={yDomain} ticks={rn} interval={0} width={axisW} allowDataOverflow
          tickLine={false} axisLine={{ stroke: '#bdbdbd' }}
          tick={(p: any) => <RnTick {...p} />}
        />
        <ReferenceLine y={yDomain[1]} stroke="#dadada" />
        <ReferenceLine x={xDomain[1]} stroke="#dadada" />
        {series.map((s, i) => (
          <Line key={i} data={rows(s.pts)} dataKey="y" type="monotone" stroke={s.color} strokeWidth={s.w ?? 1.3}
            dot={false} activeDot={false} isAnimationActive={false} />
        ))}
      </LineChart>
    </div>
  );
};

interface DissProps { box: Box; tm: number; darkTop?: boolean; series: Series[] }

const DissChart = ({ box, tm, darkTop, series }: DissProps) => (
  <div style={{ position: 'absolute', left: box.x - 1, top: box.y - 1 }}>
    <LineChart width={box.w + 2} height={box.h + 2} margin={{ top: 1, right: 1, bottom: 1, left: 1 }}>
      <XAxis type="number" dataKey="x" domain={MELT_T} ticks={MELT_T_GRID} interval={0} hide allowDataOverflow />
      <YAxis type="number" domain={MELT_Y} ticks={MELT_Y_GRID} interval={0} hide allowDataOverflow />
      <CartesianGrid stroke="#d2d2d2" />
      <ReferenceLine x={tm} stroke="#7f9fdc" strokeWidth={1.2} />
      {darkTop && <ReferenceLine y={30} stroke="#8a8a8a" strokeWidth={2.5} />}
      {series.map((s, i) => (
        <Line key={i} data={rows(s.pts)} dataKey="y" type="monotone" stroke={s.color} strokeWidth={s.w ?? 1.2}
          dot={false} activeDot={false} isAnimationActive={false} />
      ))}
    </LineChart>
  </div>
);

// ---------- panel tables ----------
const RED = '#e5352a', RED2 = '#ee5f4e', RED3 = '#f2917f', RED4 = '#eaa28f';
const GRN = '#37cf72', GRN2 = '#52d684', TEAL = '#6fd8bd', GRNL = '#93e4b0';
const YEL = '#e0c235', YEL2 = '#e8d060', YEL3 = '#eee39a';
const CYA = '#3ec4db', CYA2 = '#5ccde2', CYA3 = '#2fb6cf', CYA4 = '#79d6e6';
const LIM = '#5fd63c', LIM2 = '#7fdf60', LIM3 = '#47c92b', LIM4 = '#a0e686';
const SAL = '#ec7e6a', SAL2 = '#f09484', SAL3 = '#f3aa9b';
const MAG = '#d54fc3', MAG2 = '#e07ed3';

const ampPanels: AmpProps[] = [
  {
    left: 6, box: { x: 63, y: 95, w: 319, h: 217 }, xDomain: [22.5, 52.5], yDomain: [0.0087, 324],
    ct: a1CtTicks, ctAnchor: a1CtAnchor, ctDy: 20, rn: a1RnTicks,
    series: [
      { pts: a1Rt, color: RED4, w: 1.2 }, { pts: a1Ntc, color: RED4, w: 1.2 },
      { pts: a1Ae6, color: RED3 }, { pts: a1Ae4, color: RED2 }, { pts: a1Ae5, color: RED, w: 1.8 },
      { pts: a1Ae3, color: RED, w: 1.6 }, { pts: a1Ae2, color: RED2 }, { pts: a1Ae1, color: RED, w: 1.6 },
    ],
  },
  {
    left: 738, box: { x: 790, y: 90, w: 318, h: 228 }, xDomain: [19.1, 49.1], yDomain: [1.5e-4, 0.4],
    ct: a2CtTicks, ctAnchor: a2CtAnchor, ctDy: 14, rn: a2RnTicks,
    series: [
      { pts: a2Rt, color: TEAL, w: 1.1 }, { pts: a2Ntc, color: TEAL, w: 1.1 },
      { pts: a2Ae4, color: GRN2, w: 1.4 }, { pts: a2Ae3, color: GRN, w: 1.6 }, { pts: a2Ae2, color: GRN, w: 1.7 }, { pts: a2Ae1, color: GRN, w: 1.7 },
    ],
  },
  {
    left: 6, box: { x: 63, y: 423, w: 317, h: 230 }, xDomain: [20.2, 50.1], yDomain: [0.00247, 0.348],
    ct: a3CtTicks, ctAnchor: a3CtAnchor, ctDy: 17, rn: a3RnTicks,
    series: [
      { pts: a3Rt1, color: YEL3 }, { pts: a3Rt2, color: YEL3 }, { pts: a3Ntc, color: YEL3 },
      { pts: a3Ae6, color: YEL2 }, { pts: a3Ae5, color: YEL }, { pts: a3Ae4, color: YEL, w: 1.5 },
      { pts: a3Ae3, color: YEL2 }, { pts: a3Ae2, color: YEL2 }, { pts: a3Ae1, color: YEL },
    ],
  },
  {
    left: 738, box: { x: 790, y: 425, w: 315, h: 230 }, xDomain: [17.7, 47.5], yDomain: [0.00355, 0.272],
    ct: a4CtTicks, ctAnchor: a4CtAnchor, ctDy: 15, rn: a4RnTicks,
    series: [
      { pts: a4C5, color: '#ece99a' }, { pts: a4C4, color: '#82d6e2' }, { pts: a4C3, color: '#a9b9ea' },
      { pts: a4C2, color: '#84cf6e' }, { pts: a4C1, color: '#c8e07c', w: 1.5 },
    ],
  },
  {
    left: 6, box: { x: 63, y: 758, w: 318, h: 229 }, xDomain: [20, 50], yDomain: [0.00322, 0.413],
    ct: a5CtTicks, ctAnchor: a5CtAnchor, ctDy: 12, rn: a5RnTicks,
    series: [
      { pts: a5Ntc, color: LIM4 }, { pts: a5Rt2, color: LIM4 }, { pts: a5Rt1, color: LIM2 },
      { pts: a5Ae5, color: LIM2 }, { pts: a5Ae4, color: LIM3, w: 1.7 },
      { pts: a5Ae3, color: LIM2 }, { pts: a5Ae2, color: LIM4 }, { pts: a5Ae1, color: LIM2 },
    ],
  },
  {
    left: 738, box: { x: 790, y: 760, w: 318, h: 229 }, xDomain: [21.3, 51.3], yDomain: [0.00276, 0.272],
    ct: a6CtTicks, ctAnchor: a6CtAnchor, ctDy: 10, rn: a6RnTicks,
    series: [
      { pts: a6Ntc, color: SAL3 }, { pts: a6Rt, color: SAL2 },
      { pts: a6Ae3, color: SAL2 }, { pts: a6Ae2, color: SAL }, { pts: a6Ae1, color: '#e8604c', w: 1.6 },
    ],
  },
  {
    left: 6, box: { x: 63, y: 1088, w: 319, h: 224 }, xDomain: [20.5, 49.7], yDomain: [0.0064, 33.7],
    ct: a7CtTicks, ctAnchor: a7CtAnchor, ctDy: 15, rn: a7RnTicks,
    series: [
      { pts: a7Ntc2, color: MAG2 }, { pts: a7Ntc1, color: MAG, w: 1.4 }, { pts: a7Rt, color: MAG2 },
      { pts: a7Ae5, color: '#f2a58b' }, { pts: a7Ae6, color: '#f0916e' }, { pts: a7Ae4, color: '#e0452c', w: 1.5 },
      { pts: a7Ae3, color: '#f0de7a' }, { pts: a7Ae2, color: '#e9d24c' }, { pts: a7Ae1, color: '#ee5a2a', w: 1.8 },
    ],
  },
  {
    left: 738, box: { x: 790, y: 1087, w: 313, h: 226 }, xDomain: [18.6, 44.7], yDomain: [0.0078, 36.9],
    ct: a8CtTicks, ctAnchor: a8CtAnchor, ctDy: 14, rn: a8RnTicks,
    series: [
      { pts: a8Neg, color: '#e060cc' },
      { pts: a8Ae6, color: '#8fe073' }, { pts: a8Ae5, color: '#c0782a', w: 1.5 }, { pts: a8Ae4, color: '#8e9c22', w: 1.6 },
      { pts: a8Ae3, color: '#e6dc70', w: 1.5 }, { pts: a8Ae2, color: '#dccf3c', w: 1.5 }, { pts: a8Ae1, color: '#e8432e' },
    ],
  },
];

const dissPanels: DissProps[] = [
  {
    box: { x: 415, y: 92, w: 317, h: 227 }, tm: tmMarkers[0],
    series: [
      { pts: d1Rt, color: RED4 }, { pts: d1Ntc, color: RED4 },
      { pts: d1Ae5, color: RED3 }, { pts: d1Ae4, color: RED2 }, { pts: d1Ae3, color: RED3 }, { pts: d1Ae2, color: RED, w: 1.5 }, { pts: d1Ae1, color: RED, w: 1.5 },
    ],
  },
  {
    box: { x: 1125, y: 94, w: 318, h: 224 }, tm: tmMarkers[1], darkTop: true,
    series: [
      { pts: d2Rt, color: GRNL }, { pts: d2Ntc, color: GRNL },
      { pts: d2Ae4, color: GRN2 }, { pts: d2Ae3, color: GRN }, { pts: d2Ae2, color: GRN2 }, { pts: d2Ae1, color: GRN, w: 1.5 },
    ],
  },
  {
    box: { x: 415, y: 423, w: 317, h: 238 }, tm: tmMarkers[2], darkTop: true,
    series: [
      { pts: d3Rt1, color: YEL3 }, { pts: d3Rt2, color: YEL3 }, { pts: d3Ntc1, color: YEL3 }, { pts: d3Ntc2, color: YEL3 },
      { pts: d3Ae5, color: YEL2 }, { pts: d3Ae4, color: YEL2 }, { pts: d3Ae3, color: YEL }, { pts: d3Ae2, color: YEL }, { pts: d3Ae1, color: YEL, w: 1.4 },
    ],
  },
  {
    box: { x: 1125, y: 427, w: 318, h: 229 }, tm: tmMarkers[3],
    series: [
      { pts: d4C7, color: CYA4 }, { pts: d4C8, color: CYA2 }, { pts: d4C6, color: CYA }, { pts: d4C5, color: CYA2 },
      { pts: d4C9, color: CYA4 }, { pts: d4C4, color: CYA3 }, { pts: d4C3, color: CYA2 }, { pts: d4C10, color: CYA },
      { pts: d4C2, color: CYA4 }, { pts: d4C1, color: CYA3 },
    ],
  },
  {
    box: { x: 415, y: 758, w: 312, h: 229 }, tm: tmMarkers[4],
    series: [
      { pts: d5Ntc, color: LIM4 }, { pts: d5Rt, color: LIM4 }, { pts: d5Ae6, color: LIM2 },
      { pts: d5Ae4, color: LIM2 }, { pts: d5Ae5, color: LIM }, { pts: d5Ae3, color: LIM2 }, { pts: d5Ae2, color: LIM3, w: 1.4 }, { pts: d5Ae1, color: LIM, w: 1.4 },
    ],
  },
  {
    box: { x: 1125, y: 767, w: 318, h: 221 }, tm: tmMarkers[5], darkTop: true,
    series: [
      { pts: d6S4, color: SAL3 }, { pts: d6S3, color: SAL2 }, { pts: d6S5, color: SAL2 },
      { pts: d6S6, color: SAL }, { pts: d6S2, color: SAL }, { pts: d6S1, color: SAL2 },
    ],
  },
  {
    box: { x: 415, y: 1083, w: 317, h: 232 }, tm: tmMarkers[6],
    series: [
      { pts: d7M4, color: MAG2 }, { pts: d7M3, color: MAG }, { pts: d7M2, color: MAG2 }, { pts: d7M1, color: MAG },
      { pts: d7A5, color: '#f2a58b' }, { pts: d7A6, color: '#e87040' }, { pts: d7A3, color: '#e85a30' },
      { pts: d7A4, color: '#f09a30' }, { pts: d7A2, color: '#e8d040' }, { pts: d7A1, color: '#f08020', w: 1.5 },
    ],
  },
  {
    box: { x: 1125, y: 1087, w: 318, h: 226 }, tm: tmMarkers[7],
    series: [
      { pts: d8M1, color: '#e060c8' }, { pts: d8O1, color: '#f0a030' }, { pts: d8R1, color: '#e8553c' },
      { pts: d8G2, color: '#3fb82a' }, { pts: d8Y1, color: '#e2d42a', w: 1.4 }, { pts: d8G1, color: '#7fdc2a', w: 1.5 },
    ],
  },
];

// ---------- text placement ----------
const headerPos = [[72, 20], [434, 20], [800, 20], [1143, 20]];
const titlePos = [[55, 73], [783, 73], [55, 397], [778, 397], [55, 734], [773, 734], [55, 1056], [766, 1056]];
const rnPos = [[8, 101], [740, 98], [8, 433], [740, 433], [8, 779], [740, 770], [8, 1093], [740, 1085]];
const ctPos = [[348, 333], [1057, 333], [340, 671], [1060, 671], [334, 1000], [1070, 1000], [343, 1328], [1068, 1328]];
const tmPos = [[640, 332], [1350, 333], [530, 671], [1325, 671], [628, 1000], [1334, 1000], [641, 1328], [1350, 1328]];

const notes: Note[] = [
  { text: 'A-E', x: 123, cy: 237 }, { text: 'RT-', x: 263, cy: 183 }, { text: 'NTC', x: 318, cy: 292 },
  { text: 'A-E', x: 570, cy: 131 }, { text: 'RT-', x: 608, cy: 245 }, { text: 'NTC', x: 664, cy: 274 },
  { text: 'A-E', x: 850, cy: 220 }, { text: 'RT-/ NTC', x: 992, cy: 220 },
  { text: 'A-E', x: 1292, cy: 129 }, { text: 'RT-', x: 1312, cy: 269 }, { text: 'NTC', x: 1357, cy: 297 },
  { text: 'A-E', x: 147, cy: 582 }, { text: 'RT-', x: 283, cy: 604 }, { text: 'NTC', x: 330, cy: 630 },
  { text: 'NTC', x: 492, cy: 507 }, { text: 'A-E', x: 613, cy: 486 }, { text: 'RT-', x: 455, cy: 564 },
  { text: 'A-E', x: 892, cy: 557 }, { text: 'NTC', x: 973, cy: 550 }, { text: 'RT-', x: 958, cy: 579 },
  { text: 'A-E', x: 1257, cy: 448 }, { text: 'RT-', x: 1182, cy: 514 }, { text: 'NTC', x: 1238, cy: 577 },
  { text: 'A-E', x: 173, cy: 842 }, { text: 'NTC', x: 260, cy: 876 }, { text: 'RT-', x: 193, cy: 906 },
  { text: 'NTC', x: 496, cy: 876 }, { text: 'RT-', x: 574, cy: 890 },
  { text: 'A-E', x: 935, cy: 857 }, { text: 'NTC', x: 857, cy: 903 }, { text: 'RT-', x: 959, cy: 906 },
  { text: 'RT-', x: 1210, cy: 805 }, { text: 'A-E', x: 1200, cy: 842 }, { text: 'NTC', x: 1267, cy: 903 },
  { text: 'A-E', x: 181, cy: 1189 }, { text: 'RT-', x: 278, cy: 1169 }, { text: 'NTC', x: 328, cy: 1189 },
  { text: 'A-E', x: 652, cy: 1110 }, { text: 'NTC', x: 582, cy: 1150 }, { text: 'RT-', x: 507, cy: 1189 },
  { text: 'A-E', x: 823, cy: 1189 }, { text: 'NTC/RT-', x: 955, cy: 1179 },
  { text: 'NTC/ RT-', x: 1220, cy: 1126 }, { text: 'A-E', x: 1385, cy: 1114 },
];

const Txt = ({ x, cy, size, children, underline }: { x: number; cy: number; size: number; children: React.ReactNode; underline?: boolean }) => (
  <div
    style={{
      position: 'absolute', left: x, top: cy - size * 0.56, fontSize: size, lineHeight: 1, whiteSpace: 'nowrap',
      textDecoration: underline ? 'underline' : 'none', textDecorationThickness: 2.5, textUnderlineOffset: 5,
    }}
  >
    {children}
  </div>
);

export default function App() {
  return (
    <div style={{ position: 'absolute', left: 0, top: 0, width: 1461, height: 1342, background: '#fff', fontFamily: FONT, color: INK }}>
      {ampPanels.map((p, i) => <AmpChart key={`a${i}`} {...p} />)}
      {dissPanels.map((p, i) => <DissChart key={`d${i}`} {...p} />)}
      {columnHeaders.map((t, i) => <Txt key={`h${i}`} x={headerPos[i][0]} cy={headerPos[i][1]} size={26}>{t}</Txt>)}
      {geneTitles.map((t, i) => <Txt key={`t${i}`} x={titlePos[i][0]} cy={titlePos[i][1]} size={29} underline>{t}</Txt>)}
      {rnLabels.map((t, i) => <Txt key={`r${i}`} x={rnPos[i][0]} cy={rnPos[i][1]} size={20}>{t}</Txt>)}
      {ctPos.map((p, i) => <Txt key={`c${i}`} x={p[0]} cy={p[1]} size={20}>[CT]</Txt>)}
      {tmLabels.map((t, i) => <Txt key={`m${i}`} x={tmPos[i][0]} cy={tmPos[i][1]} size={20}>{t}</Txt>)}
      {notes.map((n, i) => <Txt key={`n${i}`} x={n.x} cy={n.cy} size={26}>{n.text}</Txt>)}
    </div>
  );
}
